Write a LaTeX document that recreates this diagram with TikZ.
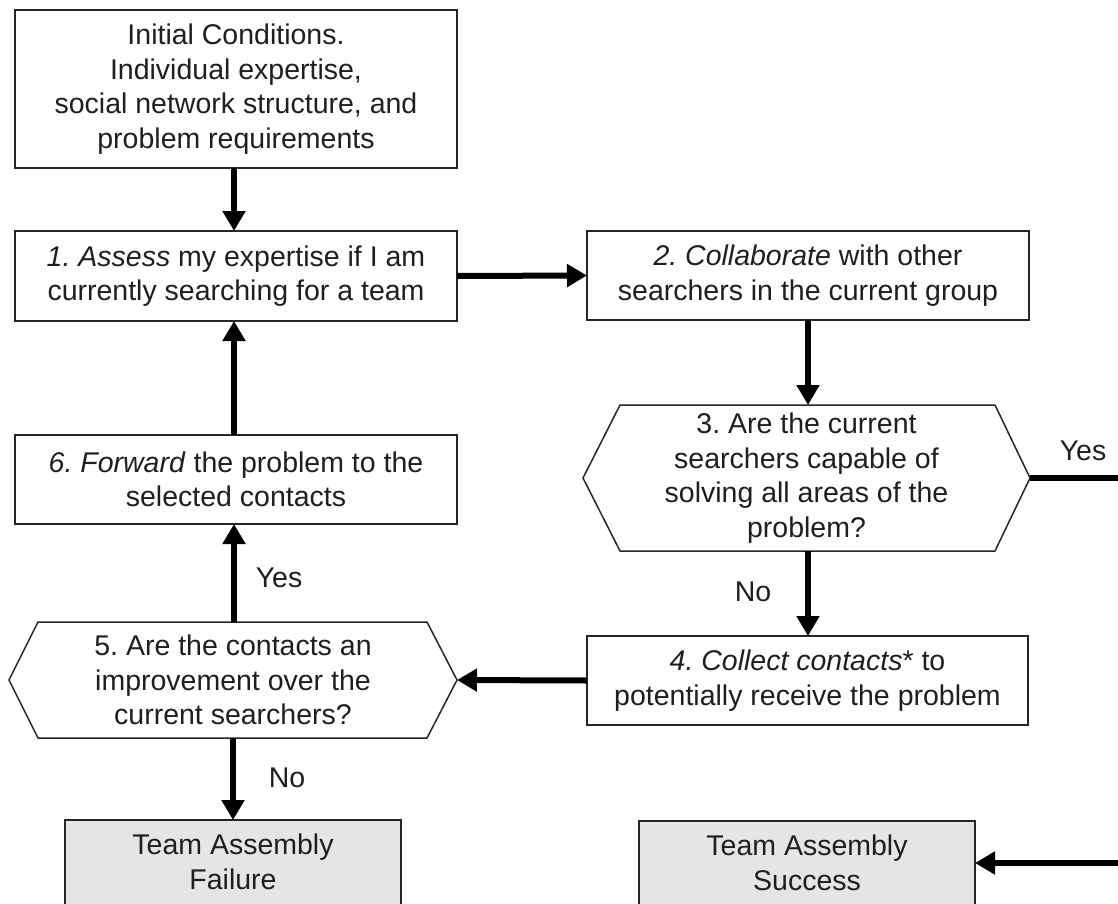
\documentclass[tikz,border=0pt]{standalone}
\usepackage{fontspec}
\setmainfont{Liberation Sans}
\usetikzlibrary{arrows.meta,calc}

\tikzset{
  txt/.style={font=\fontsize{28.5}{34.5}\selectfont\frenchspacing, text=black!88, align=center, inner sep=0pt, outer sep=0pt},
  box/.style={txt, draw=black!85, line width=1.5pt, minimum width=442pt, minimum height=89pt},
  endbox/.style={draw=black!85, fill=black!10, line width=1.5pt, minimum width=336pt, minimum height=140pt, anchor=north, inner sep=0pt, outer sep=0pt},
  hexbody/.style={txt, minimum height=116pt},
  hexline/.style={draw=black!85, line width=1.5pt, line join=miter},
  flow/.style={line width=6pt, -{Triangle[width=22pt,length=20pt]}},
  tag/.style={txt}
}

\begin{document}
\begin{tikzpicture}[x=1pt,y=-1pt]
  \useasboundingbox (0,0) rectangle (1118,904);
  \clip (0,0) rectangle (1118,904);

  % process boxes
  \node[box, minimum height=158pt] (init) at (236,89)
    {Initial Conditions.\\ Individual expertise,\\ social network structure, and\\ problem requirements};
  \node[box, minimum height=90pt] (assess) at (236,276)
    {\textit{1. Assess} my expertise if I am\\ currently searching for a team};
  \node[box, minimum height=89pt] (collab) at (808,275.5)
    {\textit{2. Collaborate} with other\\ searchers in the current group};
  \node[box, minimum width=441pt] (collect) at (807.5,680.5)
    {\textit{4. Collect contacts}* to\\ potentially receive the problem};
  \node[box] (forward) at (236,479.5)
    {\textit{6. Forward} the problem to the\\ selected contacts};

  % decision hexagons
  \node[hexbody, minimum width=447pt, minimum height=146pt] (capable) at (806.5,478)
    {3. Are the current\\ searchers capable of\\ solving all areas of the\\ problem?};
  \draw[hexline] (capable.west) -- ($(capable.north west)+(37,0)$) -- ($(capable.north east)+(-35,0)$)
    -- (capable.east) -- ($(capable.south east)+(-35,0)$) -- ($(capable.south west)+(37,0)$) -- cycle;

  \node[hexbody, minimum width=448pt] (improve) at (233,680)
    {5. Are the contacts an\\ improvement over the\\ current searchers?};
  \draw[hexline] (improve.west) -- ($(improve.north west)+(29,0)$) -- ($(improve.north east)+(-30,0)$)
    -- (improve.east) -- ($(improve.south east)+(-30,0)$) -- ($(improve.south west)+(29,0)$) -- cycle;

  % outcome boxes
  \node[endbox] (fail) at (233,820) {};
  \node[txt] (failtxt) at (233,862) {Team Assembly\\ Failure};
  \node[endbox] (success) at (807,821) {};
  \node[txt] (successtxt) at (807,863) {Team Assembly\\ Success};

  % connectors (kept vertical / horizontal)
  \coordinate (lx) at (234,0);
  \coordinate (rx) at (808,0);
  \draw[flow] (init.south -| lx) -- (assess.north -| lx);
  \draw[flow] (assess.east) -- (collab.west);
  \draw[flow] (collab.south -| rx) -- (capable.north -| rx);
  \draw[flow] (capable.south -| rx) -- (collect.north -| rx);
  \draw[flow] (collect.west) -- (improve.east);
  \draw[flow] (improve.north -| lx) -- (forward.south -| lx);
  \draw[flow] (forward.north -| lx) -- (assess.south -| lx);
  \draw[flow] (improve.south) -- (fail.north);
  \coordinate (rtop) at (1120.7,478);
  \coordinate (rbot) at (1120.7,863);
  \draw[flow] (capable.east) -- (rtop) -- (rbot) -- (success.east |- rbot);

  % branch labels
  \node[tag] (yes3) at (1083,451) {Yes};
  \node[tag] (no3) at (753,592) {No};
  \node[tag] (yes5) at (279,578) {Yes};
  \node[tag] (no5) at (287,778) {No};
\end{tikzpicture}
\end{document}
